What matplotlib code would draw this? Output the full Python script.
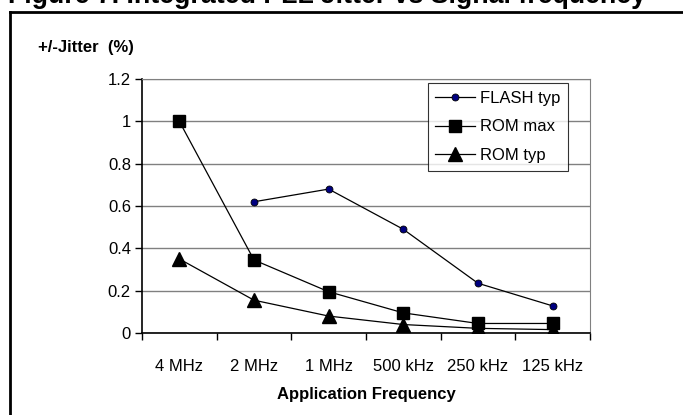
import matplotlib.pyplot as plt
from matplotlib.lines import Line2D
import numpy as np

plt.rcParams['font.family'] = ['Liberation Sans', 'DejaVu Sans']

freqs = ['4 MHz', '2 MHz', '1 MHz', '500 kHz', '250 kHz', '125 kHz']
flash_typ = [np.nan, 0.62, 0.68, 0.49, 0.235, 0.128]
rom_max = [1.0, 0.345, 0.195, 0.095, 0.045, 0.045]
rom_typ = [0.35, 0.155, 0.08, 0.04, 0.022, 0.016]

fig = plt.figure(figsize=(6.83, 4.15), dpi=100)

# outer frame, partly cut like the scanned page
fig.add_artist(Line2D([0.0146, 0.0146], [0, 0.971], color='black', lw=2))
fig.add_artist(Line2D([0.0146, 1.0], [0.971, 0.971], color='black', lw=2))
fig.text(0.012, 1 - 3 / 415, 'Figure 7. Integrated PLL Jitter vs Signal frequency',
         fontsize=19.3, fontweight='bold', va='baseline', ha='left')

ax = fig.add_axes([0.2079, 0.1976, 0.6559, 0.6120])
x = np.arange(len(freqs))

ax.plot(x, flash_typ, color='black', lw=0.9, marker='o', ms=5,
        mfc='#000080', mec='black', mew=0.6, label='FLASH typ')
ax.plot(x, rom_max, color='black', lw=0.9, marker='s', ms=8.5,
        mfc='black', mec='black', label='ROM max')
ax.plot(x, rom_typ, color='black', lw=0.9, marker='^', ms=9.5,
        mfc='black', mec='black', label='ROM typ')

ax.set_xlim(-0.5, len(freqs) - 0.5)
ax.set_ylim(0, 1.2)
ax.set_yticks(np.arange(0, 1.21, 0.2))
ax.set_yticklabels(['0', '0.2', '0.4', '0.6', '0.8', '1', '1.2'])
ax.yaxis.grid(True, color='#808080', lw=1)
ax.set_axisbelow(True)

ax.set_xticks(x)
ax.set_xticklabels(freqs)
ax.set_xticks(np.arange(-0.5, len(freqs)), minor=True)
ax.tick_params(axis='x', which='major', length=0, pad=19, labelsize=12)
ax.tick_params(axis='x', which='minor', length=5, direction='out', width=1)
ax.tick_params(axis='y', length=5, direction='out', width=1, labelsize=12, pad=3)

for s in ['top', 'right']:
    ax.spines[s].set_color('#808080')
for s in ['left', 'bottom']:
    ax.spines[s].set_color('black')
    ax.spines[s].set_linewidth(1.2)

ax.set_xlabel('Application Frequency', fontsize=12, fontweight='bold', labelpad=9)
fig.text(0.055, 0.885, '+/-Jitter  (%)', fontsize=12, fontweight='bold',
         va='center', ha='left')

leg = ax.legend(loc='upper right', bbox_to_anchor=(0.951, 0.984), fontsize=12,
                frameon=True, fancybox=False, edgecolor='black', handlelength=2.4,
                borderpad=0.45, labelspacing=0.83, handletextpad=0.3, borderaxespad=0)
leg.get_frame().set_linewidth(0.8)

fig.savefig('out.png', dpi=100)
